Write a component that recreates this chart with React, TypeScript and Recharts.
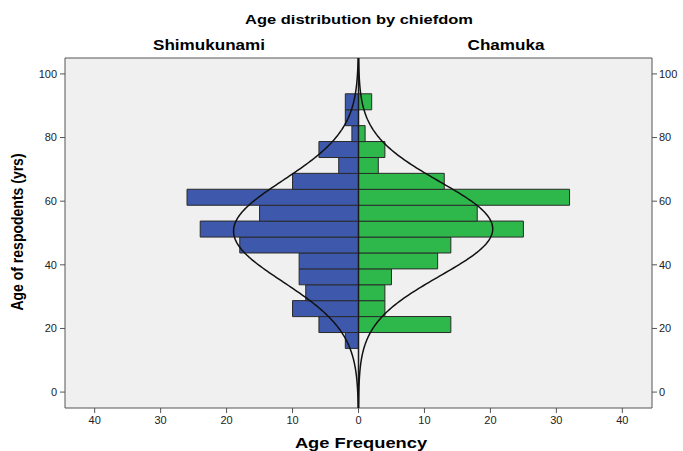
import React from 'react';
import { ComposedChart, Bar, Line, XAxis, YAxis, CartesianGrid, ReferenceLine } from 'recharts';

// Age bins (centre of each 5-year bin), from youngest to oldest
const ageBins = [16.25, 21.25, 26.25, 31.25, 36.25, 41.25, 46.25, 51.25, 56.25, 61.25, 66.25, 71.25, 76.25, 81.25, 86.25, 91.25];
// Frequencies per bin
const shimukunami = [2, 6, 10, 8, 9, 9, 18, 24, 15, 26, 10, 3, 6, 1, 2, 2];
const chamuka = [0, 14, 4, 4, 5, 12, 14, 25, 18, 32, 13, 3, 4, 1, 0, 2];

// Normal curve parameters (SPSS overlay)
const shimMean = 50.6;
const shimSd = 15.9;
const chamMean = 51.3;
const chamSd = 14.8;
const binWidth = 5;

const xTicks = [-40, -30, -20, -10, 0, 10, 20, 30, 40];
const yTicks = [0, 20, 40, 60, 80, 100];
const xDomain: [number, number] = [-44.5, 44.5];
const yDomain: [number, number] = [-5, 105];

const barData = ageBins.map((age, i) => ({ age, shim: -shimukunami[i], cham: chamuka[i] }));

const sum = (a: number[]) => a.reduce((s, v) => s + v, 0);
const normal = (x: number, m: number, sd: number, n: number) =>
  (n * binWidth) / (sd * Math.sqrt(2 * Math.PI)) * Math.exp(-((x - m) ** 2) / (2 * sd * sd));

const curveAges: number[] = [];
for (let a = yDomain[0]; a <= yDomain[1] + 1e-9; a += 0.5) curveAges.push(a);
const nShim = sum(shimukunami);
const nCham = sum(chamuka);
const curveData = curveAges.map((age) => ({
  age,
  shim: -normal(age, shimMean, shimSd, nShim),
  cham: normal(age, chamMean, chamSd, nCham),
}));

const FONT = '"Liberation Sans", Arial, sans-serif';
const W = 683;
const H = 451;
const tickStyle = { fontSize: 11, fill: '#222', fontFamily: FONT };

const label = (text: string, cx: number, top: number, size: number, extra: React.CSSProperties = {}) => (
  <div
    style={{
      position: 'absolute',
      left: cx,
      top,
      transform: 'translateX(-50%) scaleX(1.22)',
      fontFamily: FONT,
      fontWeight: 'bold',
      fontSize: size,
      lineHeight: `${size}px`,
      whiteSpace: 'nowrap',
      color: '#000',
      ...extra,
    }}
  >
    {text}
  </div>
);

export default function App() {
  return (
    <div style={{ position: 'absolute', left: 0, top: 0, width: W, height: H, background: '#fff' }}>
      <div style={{ position: 'absolute', left: 0, top: 0 }}>
        <ComposedChart
          width={W}
          height={H}
          data={barData}
          layout="vertical"
          stackOffset="sign"
          barCategoryGap={0}
          margin={{ top: 58, right: 0, bottom: 0, left: 0 }}
        >
          <CartesianGrid fill="#F0F0F0" fillOpacity={1} horizontal={false} vertical={false} />
          <XAxis
            type="number"
            domain={xDomain}
            ticks={xTicks}
            allowDataOverflow
            tickFormatter={(v: number) => String(Math.abs(v))}
            height={43}
            tick={tickStyle}
            tickSize={5}
            tickMargin={3}
            axisLine={{ stroke: '#555' }}
            tickLine={{ stroke: '#555' }}
          />
          <YAxis
            type="number"
            dataKey="age"
            domain={yDomain}
            ticks={yTicks}
            reversed
            allowDataOverflow
            width={65}
            tick={tickStyle}
            tickSize={5}
            tickMargin={3}
            axisLine={{ stroke: '#555' }}
            tickLine={{ stroke: '#555' }}
          />
          <YAxis
            yAxisId="right"
            orientation="right"
            type="number"
            dataKey="age"
            domain={yDomain}
            ticks={yTicks}
            reversed
            allowDataOverflow
            width={31}
            tick={tickStyle}
            tickSize={5}
            tickMargin={2}
            axisLine={{ stroke: '#555' }}
            tickLine={{ stroke: '#555' }}
          />
          <Bar dataKey="shim" stackId="s" fill="#3E58AC" stroke="#2a2a2a" strokeWidth={1} isAnimationActive={false} />
          <Bar dataKey="cham" stackId="s" fill="#2EB84B" stroke="#2a2a2a" strokeWidth={1} isAnimationActive={false} />
          <ReferenceLine x={0} stroke="#1a1a1a" strokeWidth={1.5} />
          <ReferenceLine y={105} stroke="#555" strokeWidth={1} />
        </ComposedChart>
      </div>
      <div style={{ position: 'absolute', left: 0, top: 0, pointerEvents: 'none' }}>
        <ComposedChart
          width={W}
          height={H}
          data={curveData}
          layout="vertical"
          margin={{ top: 58, right: 31, bottom: 43, left: 65 }}
        >
          <XAxis type="number" domain={xDomain} allowDataOverflow hide />
          <YAxis type="number" dataKey="age" domain={yDomain} reversed allowDataOverflow hide />
          <Line dataKey="shim" type="linear" stroke="#111" strokeWidth={1.5} dot={false} isAnimationActive={false} />
          <Line dataKey="cham" type="linear" stroke="#111" strokeWidth={1.5} dot={false} isAnimationActive={false} />
        </ComposedChart>
      </div>
      {label('Age distribution by chiefdom', 359, 13, 13.5)}
      {label('Shimukunami', 209, 38, 14)}
      {label('Chamuka', 506, 38, 14)}
      {label('Age Frequency', 361, 435, 15)}
      <div
        style={{
          position: 'absolute',
          left: 17,
          top: 232,
          transform: 'translate(-50%, -50%) rotate(-90deg) scale(1, 1.22)',
          fontFamily: FONT,
          fontWeight: 'bold',
          fontSize: 14,
          lineHeight: '14px',
          whiteSpace: 'nowrap',
          color: '#000',
        }}
      >
        Age of respodents (yrs)
      </div>
    </div>
  );
}
